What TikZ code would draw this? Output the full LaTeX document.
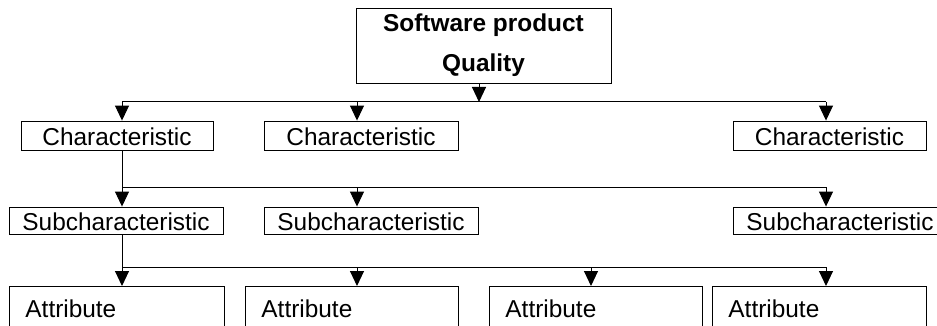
\documentclass[tikz,border=0pt]{standalone}
\usepackage{fontspec}
\setmainfont{Liberation Sans}
\usetikzlibrary{arrows.meta,positioning}

\begin{document}
\begin{tikzpicture}[>={Triangle[length=15pt,width=14pt]}, x=1pt, y=-1pt, line width=1pt,
    font=\fontsize{24.4}{40}\selectfont]
	    \tikzstyle{box}=[draw=black, line width=0.9pt, inner sep=0pt]
	    \tikzstyle{charbox}=[box, text height=25pt, text depth=4pt]
	    \tikzstyle{subbox}=[box, text height=23pt, text depth=4pt, minimum width=214pt]
	    \tikzstyle{attrbox}=[box, anchor=north west, inner xsep=16pt, align=left, text height=31pt, text depth=30pt]

	    \useasboundingbox (0,0) rectangle (937,326);
	    \clip (0,0) rectangle (937,326);

	    \node[box, minimum width=255pt, minimum height=75pt, align=center, font=\fontsize{24.4}{40}\selectfont\bfseries] (quality) at (483.5,45.5) {Software product\\Quality};

	    \node[charbox, minimum width=192pt] (char left) at (117,135.5) {Characteristic};
	    \node[charbox, minimum width=194pt] (char mid) at (361,135.5) {Characteristic};
	    \node[charbox, minimum width=193pt] (char right) at (829.5,135.5) {Characteristic};

	    \node[subbox] (sub left) at (116,220.5) {Subcharacteristic};
	    \node[subbox] (sub mid) at (371,220.5) {Subcharacteristic};
	    \node[subbox] (sub right) at (840,220.5) {Subcharacteristic};

	    \node[attrbox, text width=183pt] (attr a) at (9,286) {Attribute};
	    \node[attrbox, text width=181pt] (attr b) at (245,286) {Attribute};
	    \node[attrbox, text width=181pt] (attr c) at (489,286) {Attribute};
	    \node[attrbox, text width=182pt] (attr d) at (712,286) {Attribute};

	    % bus lines
	    \coordinate (top bus) at (479,102);
	    \coordinate (char bus l) at (122,102);
	    \coordinate (char bus m) at (357,102);
	    \coordinate (char bus r) at (826,102);
	    \coordinate (sub bus l) at (122,187);
	    \coordinate (sub bus m) at (357,187);
	    \coordinate (sub bus r) at (826,187);
	    \coordinate (attr bus a) at (122,267);
	    \coordinate (attr bus b) at (357,267);
	    \coordinate (attr bus c) at (591,267);
	    \coordinate (attr bus d) at (826,267);

	    \draw[->] (quality.south -| top bus) -- (top bus);
	    \draw (char bus l) -- (char bus r);
	    \draw[->] (char bus l) -- (char bus l |- char left.north);
	    \draw[->] (char bus m) -- (char bus m |- char mid.north);
	    \draw[->] (char bus r) -- (char bus r |- char right.north);

	    \draw (char left.south -| sub bus l) -- (sub bus l) -- (sub bus r);
	    \draw[->] (sub bus l) -- (sub bus l |- sub left.north);
	    \draw[->] (sub bus m) -- (sub bus m |- sub mid.north);
	    \draw[->] (sub bus r) -- (sub bus r |- sub right.north);

	    \draw (sub left.south -| attr bus a) -- (attr bus a) -- (attr bus d);
	    \draw[->] (attr bus a) -- (attr bus a |- attr a.north);
	    \draw[->] (attr bus b) -- (attr bus b |- attr b.north);
	    \draw[->] (attr bus c) -- (attr bus c |- attr c.north);
	    \draw[->] (attr bus d) -- (attr bus d |- attr d.north);

    \end{tikzpicture}
\end{document}
